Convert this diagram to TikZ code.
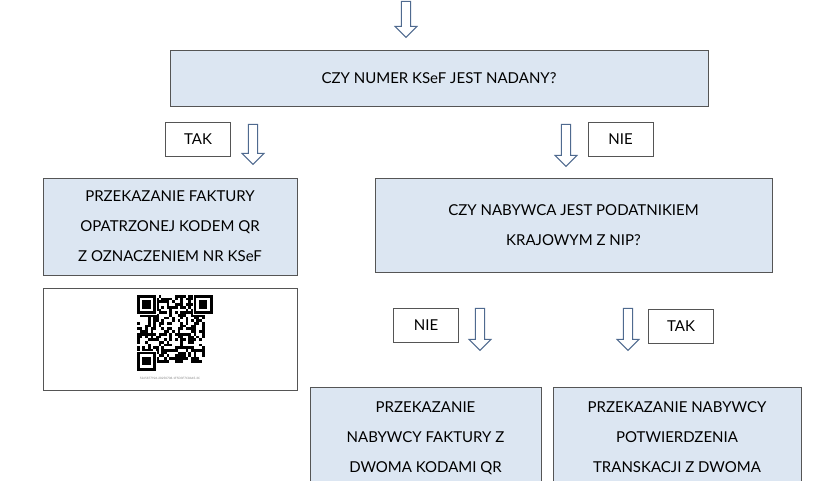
\documentclass[tikz,border=0pt]{standalone}
\usepackage{fontspec}
\setmainfont{Lato}
\usetikzlibrary{shapes.arrows}
\definecolor{boxblue}{HTML}{DCE6F2}
\definecolor{boxline}{HTML}{555555}
\definecolor{arrline}{HTML}{4F6A8F}

\tikzset{
  question/.style={draw=boxline, fill=boxblue, line width=1pt, align=center,
    font=\fontsize{15}{30}\selectfont, inner sep=0pt},
  answer/.style={draw=boxline, line width=1pt, fill=white,
    font=\fontsize{15}{18}\selectfont, minimum width=65pt, minimum height=34pt},
  downarrow/.style={single arrow, draw=arrline, line width=1pt, fill=white,
    rotate=-90, minimum width=22pt, single arrow head extend=6pt,
    single arrow head indent=0pt, inner sep=4pt},
}

\begin{document}
\begin{tikzpicture}[x=1pt,y=-1pt]
        \useasboundingbox (0,0) rectangle (840,480);
        \begin{scope}
        \clip (0,0) rectangle (840,480);

        % questions
        \node[question, minimum width=538pt, minimum height=56pt] (nadany) at (439,78) {CZY NUMER KSeF JEST NADANY?};
        \node[question, minimum width=397pt, minimum height=94pt] (nabywca) at (573.5,225) {CZY NABYWCA JEST PODATNIKIEM\\KRAJOWYM Z NIP?};

        % answers
        \node[answer] (tak1) at (198,139) {TAK};
        \node[answer] (nie1) at (620.5,139) {NIE};
        \node[answer] (nie2) at (426,325) {NIE};
        \node[answer] (tak2) at (681,326) {TAK};

        % arrows
        \node[downarrow, minimum height=36pt] (strzalka0) at (406,17) {};
        \node[downarrow, minimum height=40pt] (strzalka1) at (253,142) {};
        \node[downarrow, minimum height=42pt] (strzalka2) at (566,143) {};
        \node[downarrow, minimum height=42pt] (strzalka3) at (480,327) {};
        \node[downarrow, minimum height=42pt] (strzalka4) at (628,327) {};

        % results
        \node[question, minimum width=254pt, minimum height=97pt] (faktura) at (170,226.5) {PRZEKAZANIE FAKTURY\\OPATRZONEJ KODEM QR\\Z OZNACZENIEM NR KSeF};
        \node[question, minimum width=231pt, minimum height=130pt, anchor=north] (dwakody) at (425.5,387) {PRZEKAZANIE\\NABYWCY FAKTURY Z\\DWOMA KODAMI QR\\};
        \node[question, minimum width=248pt, minimum height=130pt, anchor=north] (potwierdzenie) at (677,387) {PRZEKAZANIE NABYWCY\\POTWIERDZENIA\\TRANSKACJI Z DWOMA\\};
        \end{scope}

        % QR code
        \node[draw=boxline, line width=1pt, minimum width=254pt, minimum height=102pt] (qrramka) at (170,339) {};
        \pgfmathsetseed{7}
        \foreach \i in {0,...,24}
          \foreach \j in {0,...,24}{
            \pgfmathparse{rnd<0.5 ? 1 : 0}
            \ifnum\pgfmathresult=1
              \fill (137+\i*2.7,295+\j*2.7) rectangle ++(2.7,2.7);
            \fi
          }
        \foreach \px/\py in {137/295, 193.7/295, 137/351.7}{
          \fill[white] (\px-1,\py-1) rectangle ++(21,21);
          \fill (\px,\py) rectangle ++(18.9,18.9);
          \fill[white] (\px+2.7,\py+2.7) rectangle ++(13.5,13.5);
          \fill (\px+5.4,\py+5.4) rectangle ++(8.1,8.1);
        }
        \node[font=\fontsize{3}{4}\selectfont, text=gray] (qrnumer) at (170,378) {5265877926-20250708-1F5D3F7C8A45-3C};
    \end{tikzpicture}
\end{document}
